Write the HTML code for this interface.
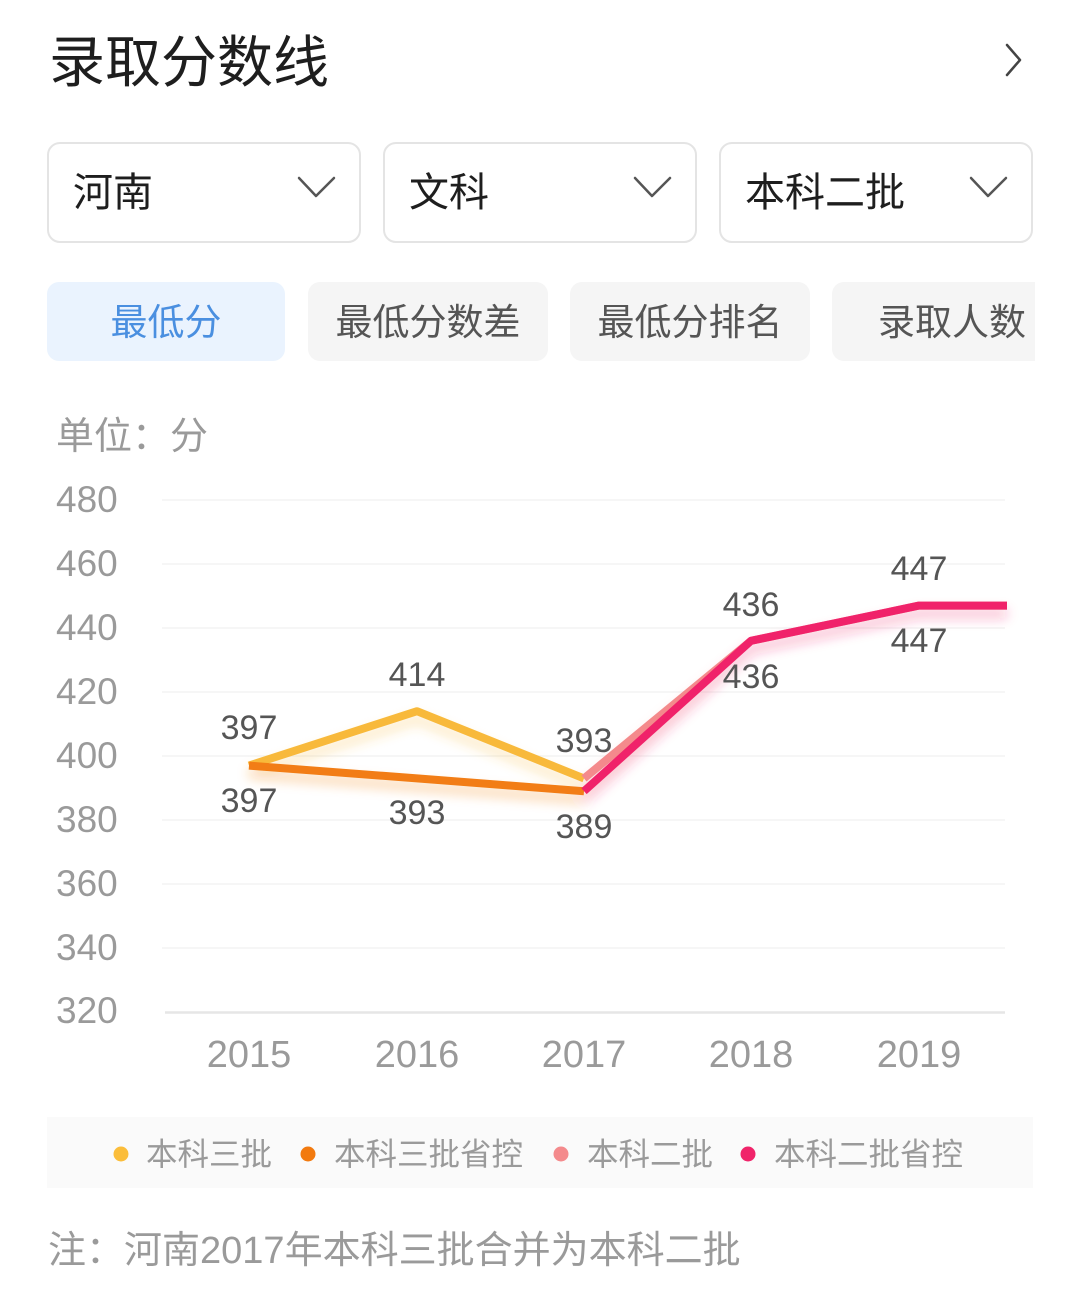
<!DOCTYPE html>
<html><head><meta charset="utf-8">
<style>
html,body{margin:0;padding:0;background:#fff;}
body{width:1080px;height:1289px;position:relative;overflow:hidden;font-family:"Liberation Sans","Noto Sans CJK SC",sans-serif;}
.abs{position:absolute;}
.title{left:49px;top:24px;font-size:56px;line-height:70px;color:#1e1e1e;font-family:"Noto Sans CJK SC",sans-serif;}
.dd{position:absolute;top:142px;border:2px solid #e4e4e4;border-radius:13px;box-sizing:border-box;height:101px;}
.dd span{position:absolute;left:24px;top:19px;font-size:40px;line-height:52px;color:#1e1e1e;font-family:"Noto Sans CJK SC",sans-serif;}
.tab{position:absolute;top:282px;height:79px;border-radius:12px;background:#f5f5f5;font-size:37px;line-height:74px;color:#555;text-align:center;font-family:"Noto Sans CJK SC",sans-serif;}
.gray{color:#9a9a9a;font-family:"Noto Sans CJK SC",sans-serif;}
</style></head>
<body>
<div class="abs title">录取分数线</div>
<svg class="abs" style="left:0;top:0" width="1080" height="380">
  <polyline points="1007,45 1020,60 1007,75" fill="none" stroke="#444" stroke-width="2.5" stroke-linecap="round" stroke-linejoin="round"/>
  <polyline points="299,178 316,196 334,178" fill="none" stroke="#555" stroke-width="2.5" stroke-linecap="round" stroke-linejoin="round"/>
  <polyline points="635,178 652,196 670,178" fill="none" stroke="#555" stroke-width="2.5" stroke-linecap="round" stroke-linejoin="round"/>
  <polyline points="971,178 988,196 1006,178" fill="none" stroke="#555" stroke-width="2.5" stroke-linecap="round" stroke-linejoin="round"/>
</svg>
<div class="dd" style="left:47px;width:314px;"><span>河南</span></div>
<div class="dd" style="left:383px;width:314px;"><span>文科</span></div>
<div class="dd" style="left:719px;width:314px;"><span>本科二批</span></div>

<div class="tab" style="left:47px;width:238px;background:#eaf3fe;color:#4a8fe0;">最低分</div>
<div class="tab" style="left:308px;width:240px;">最低分数差</div>
<div class="tab" style="left:570px;width:240px;">最低分排名</div>
<div class="tab" style="left:832px;width:203px;border-radius:12px 0 0 12px;text-align:left;"><span style="position:absolute;left:46px;top:0;">录取人数</span></div>

<div class="abs gray" style="left:56px;top:408px;font-size:38px;line-height:50px;">单位：分</div>

<svg class="abs" style="left:0;top:460px" width="1080" height="640" viewBox="0 460 1080 640">
  <defs>
    <filter id="glow" x="-10%" y="-30%" width="120%" height="160%">
      <feGaussianBlur in="SourceGraphic" stdDeviation="6" result="b"/>
      <feOffset in="b" dy="8" result="o"/>
      <feComponentTransfer in="o" result="f"><feFuncA type="linear" slope="0.35"/></feComponentTransfer>
      <feMerge><feMergeNode in="f"/><feMergeNode in="SourceGraphic"/></feMerge>
    </filter>
  </defs>
  <g stroke="#f6f6f6" stroke-width="2">
    <line x1="162" y1="500" x2="1005" y2="500"/>
    <line x1="162" y1="564" x2="1005" y2="564"/>
    <line x1="162" y1="628" x2="1005" y2="628"/>
    <line x1="162" y1="692" x2="1005" y2="692"/>
    <line x1="162" y1="756" x2="1005" y2="756"/>
    <line x1="162" y1="820" x2="1005" y2="820"/>
    <line x1="162" y1="884" x2="1005" y2="884"/>
    <line x1="162" y1="948" x2="1005" y2="948"/>
  </g>
  <line x1="165" y1="1012.5" x2="1005" y2="1012.5" stroke="#e6e6e6" stroke-width="2.5"/>
  <g font-family="Liberation Sans, sans-serif" font-size="37" fill="#9a9a9a">
    <text x="56" y="512">480</text>
    <text x="56" y="576">460</text>
    <text x="56" y="640">440</text>
    <text x="56" y="704">420</text>
    <text x="56" y="768">400</text>
    <text x="56" y="832">380</text>
    <text x="56" y="896">360</text>
    <text x="56" y="960">340</text>
    <text x="56" y="1023">320</text>
  </g>
  <g font-family="Liberation Sans, sans-serif" font-size="38" fill="#9a9a9a" text-anchor="middle">
    <text x="249" y="1067">2015</text>
    <text x="417" y="1067">2016</text>
    <text x="584" y="1067">2017</text>
    <text x="751" y="1067">2018</text>
    <text x="919" y="1067">2019</text>
  </g>
  <g fill="none" stroke-width="8" stroke-linejoin="round" stroke-linecap="butt" filter="url(#glow)">
    <polyline points="249,765.6 417,711.2 584,778.4" stroke="#f8b93b"/>
    <polyline points="249,765.6 417,778.4 584,791.2" stroke="#f27d12"/>
    <polyline points="584,778.4 751,640.8 919,605.6 1007,605.6" stroke="#f48a8c"/>
    <polyline points="584,791.2 751,640.8 919,605.6 1007,605.6" stroke="#f0246a"/>
  </g>
  <g font-family="Liberation Sans, sans-serif" font-size="34" fill="#555" text-anchor="middle">
    <text x="249" y="739">397</text>
    <text x="249" y="812">397</text>
    <text x="417" y="686">414</text>
    <text x="417" y="824">393</text>
    <text x="584" y="752">393</text>
    <text x="584" y="838">389</text>
    <text x="751" y="616">436</text>
    <text x="751" y="688">436</text>
    <text x="919" y="580">447</text>
    <text x="919" y="652">447</text>
  </g>
</svg>

<div class="abs" style="left:47px;top:1117px;width:986px;height:71px;background:#fafafa;"></div>
<svg class="abs" style="left:0;top:1117px" width="1080" height="71">
  <circle cx="121" cy="37" r="7.5" fill="#fbbd3a"/>
  <circle cx="308" cy="37" r="7.5" fill="#f27a0f"/>
  <circle cx="561" cy="37" r="7.5" fill="#f48a8c"/>
  <circle cx="748" cy="37" r="7.5" fill="#f0246a"/>
</svg>
<div class="abs gray" style="left:146px;top:1131px;font-size:31.5px;line-height:42px;">本科三批</div>
<div class="abs gray" style="left:334px;top:1131px;font-size:31.5px;line-height:42px;">本科三批省控</div>
<div class="abs gray" style="left:587px;top:1131px;font-size:31.5px;line-height:42px;">本科二批</div>
<div class="abs gray" style="left:774px;top:1131px;font-size:31.5px;line-height:42px;">本科二批省控</div>

<div class="abs gray" style="left:48px;top:1222px;font-size:38px;line-height:50px;">注：河南<span style="font-family:'Liberation Sans',sans-serif;">2017</span>年本科三批合并为本科二批</div>
</body></html>
